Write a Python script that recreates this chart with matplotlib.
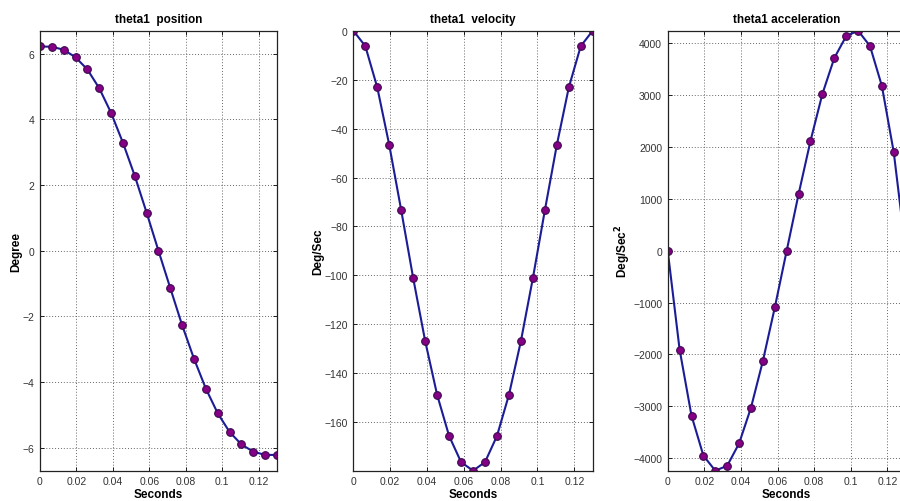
import matplotlib
matplotlib.use("Agg")
import matplotlib.pyplot as plt

plt.rcParams["font.family"] = ["Liberation Sans", "DejaVu Sans"]

# sample times (s)
t = [0.0, 0.0065, 0.013, 0.0195, 0.026, 0.0325, 0.039, 0.0455, 0.052, 0.0585, 0.065,
     0.0715, 0.078, 0.0845, 0.091, 0.0975, 0.104, 0.1105, 0.117, 0.1235, 0.13]

# theta1 position (deg)
position = [6.22, 6.21, 6.12, 5.89, 5.52, 4.95, 4.20, 3.29, 2.28, 1.16, 0.0,
            -1.14, -2.27, -3.29, -4.20, -4.95, -5.52, -5.90, -6.12, -6.22, -6.22]

# theta1 velocity (deg/s)
velocity = [0.0, -6.3, -23.2, -46.7, -73.4, -101.1, -126.8, -148.8, -165.6, -176.3, -179.8,
            -176.3, -165.6, -148.8, -126.8, -101.1, -73.4, -46.7, -23.2, -6.3, 0.0]

# theta1 acceleration (deg/s^2)
acceleration = [0, -1905, -3180, -3950, -4240, -4145, -3715, -3025, -2125, -1095, 0,
                1090, 2115, 3020, 3712, 4135, 4240, 3945, 3175, 1895, 0]

xticks = [0, 0.02, 0.04, 0.06, 0.08, 0.1, 0.12]
xticklabels = ["0", "0.02", "0.04", "0.06", "0.08", "0.1", "0.12"]

panels = [
    ("theta1  position", "Degree", position, [-6, -4, -2, 0, 2, 4, 6], (-6.7, 6.7)),
    ("theta1  velocity", "Deg/Sec", velocity, list(range(-160, 1, 20)), None),
    ("theta1 acceleration", r"Deg/Sec$^{\mathbf{2}}$", acceleration,
     list(range(-4000, 4001, 1000)), None),
]

lefts = [0.0444, 0.3926, 0.7419]
widths = [0.2633, 0.266, 0.2644]

fig = plt.figure(figsize=(9, 5.02), dpi=100)

for (title, ylabel, y, yticks, ylim), left, width in zip(panels, lefts, widths):
    ax = fig.add_axes([left, 0.0604, width, 0.8765])
    ax.plot(t, y, "-", color="#1c1c96", lw=1.5, marker="o", ms=5.5,
            mfc="#850085", mec="#3c0a50", mew=0.8)
    ax.set_xlim(0, 0.13)
    if ylim is None:
        ylim = (min(y), max(y))
    ax.set_ylim(*ylim)
    ax.set_xticks(xticks)
    ax.set_xticklabels(xticklabels)
    ax.set_yticks(yticks)
    ax.grid(True, color="#666666", linestyle=(0, (1, 2)), linewidth=0.7)
    ax.tick_params(direction="in", top=True, right=True, length=3, labelsize=7.5,
                   labelcolor="#333333", width=0.6, pad=4)
    for s in ax.spines.values():
        s.set_linewidth(0.9)
        s.set_color("#222222")
    ax.set_title(title, fontsize=8.5, fontweight="bold", pad=6)
    ax.set_xlabel("Seconds", fontsize=8.5, fontweight="bold", labelpad=1.5)
    ax.set_ylabel(ylabel, fontsize=8.5, fontweight="bold", labelpad=0)

fig.savefig("out.png", dpi=100)
